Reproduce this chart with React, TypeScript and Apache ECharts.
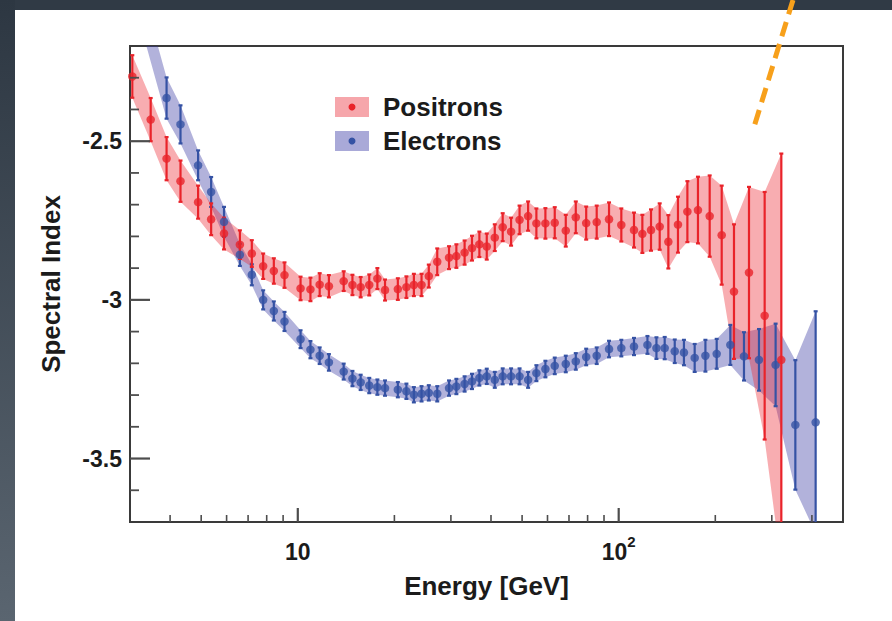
import React, { useEffect, useRef } from 'react';
import * as echarts from 'echarts';

// Positron spectral index vs energy (GeV), with 1-sigma uncertainty
const posEnergy = [3.05, 3.48, 3.90, 4.31, 4.89, 5.37, 5.89, 6.60, 7.19, 7.80, 8.42, 9.09, 10.2, 10.95, 11.7, 12.5, 13.9, 14.8, 15.7, 16.7, 17.7, 18.7, 20.5, 21.8, 23.0, 24.3, 25.6, 27.2, 29.6, 31.2, 33.1, 34.9, 36.8, 38.8, 41.1, 43.5, 46.2, 49.1, 52.2, 55.4, 59.1, 63.2, 68.4, 73.5, 79.2, 85.4, 93.3, 101.9, 111.6, 118.5, 126.1, 134.2, 142.8, 153.0, 163.7, 176.6, 192.1, 209.4, 228.7, 254.7, 285.0, 321.2];
const posIndex = [-2.296, -2.432, -2.555, -2.626, -2.692, -2.746, -2.791, -2.826, -2.854, -2.894, -2.909, -2.922, -2.964, -2.967, -2.952, -2.957, -2.941, -2.953, -2.960, -2.953, -2.933, -2.969, -2.966, -2.960, -2.953, -2.953, -2.925, -2.880, -2.867, -2.862, -2.851, -2.837, -2.825, -2.832, -2.804, -2.771, -2.785, -2.748, -2.736, -2.759, -2.759, -2.757, -2.782, -2.740, -2.758, -2.755, -2.746, -2.764, -2.780, -2.792, -2.780, -2.769, -2.817, -2.763, -2.722, -2.717, -2.736, -2.796, -2.974, -2.914, -3.050, -3.189];
const posErr = [0.067, 0.068, 0.068, 0.065, 0.052, 0.05, 0.05, 0.045, 0.042, 0.04, 0.04, 0.04, 0.037, 0.037, 0.036, 0.035, 0.031, 0.032, 0.032, 0.033, 0.033, 0.033, 0.034, 0.034, 0.035, 0.035, 0.036, 0.042, 0.036, 0.037, 0.038, 0.039, 0.04, 0.041, 0.042, 0.044, 0.044, 0.045, 0.046, 0.047, 0.048, 0.049, 0.05, 0.05, 0.052, 0.052, 0.053, 0.052, 0.055, 0.06, 0.065, 0.073, 0.084, 0.088, 0.096, 0.105, 0.128, 0.156, 0.212, 0.27, 0.39, 0.65];

// Electron spectral index vs energy (GeV)
const eleEnergy = [3.30, 3.90, 4.31, 4.89, 5.37, 5.89, 6.60, 7.19, 7.80, 8.42, 9.09, 10.2, 10.95, 11.7, 12.5, 13.9, 14.8, 15.7, 16.7, 17.7, 18.7, 20.5, 21.8, 23.0, 24.3, 25.6, 27.2, 29.6, 31.2, 33.1, 34.9, 36.8, 38.8, 41.1, 43.5, 46.2, 49.1, 52.2, 55.4, 59.1, 63.2, 68.4, 73.5, 79.2, 85.4, 93.3, 101.9, 111.6, 122.9, 131.1, 139.1, 149.5, 159.7, 172.5, 186.3, 202.0, 222.8, 245.7, 273.6, 308.3, 355.2, 410.9];
const eleIndex = [-2.10, -2.364, -2.447, -2.576, -2.660, -2.754, -2.858, -2.921, -3.000, -3.035, -3.068, -3.124, -3.157, -3.176, -3.197, -3.226, -3.248, -3.260, -3.270, -3.275, -3.278, -3.283, -3.288, -3.299, -3.296, -3.293, -3.296, -3.278, -3.273, -3.265, -3.257, -3.246, -3.241, -3.252, -3.241, -3.241, -3.241, -3.252, -3.231, -3.218, -3.208, -3.202, -3.194, -3.180, -3.176, -3.155, -3.152, -3.147, -3.142, -3.152, -3.152, -3.162, -3.166, -3.183, -3.176, -3.170, -3.142, -3.178, -3.189, -3.205, -3.394, -3.386];
const eleErr = [0.065, 0.065, 0.06, 0.047, 0.047, 0.047, 0.035, 0.033, 0.03, 0.03, 0.03, 0.028, 0.027, 0.026, 0.026, 0.025, 0.024, 0.024, 0.024, 0.024, 0.024, 0.024, 0.024, 0.024, 0.024, 0.024, 0.024, 0.024, 0.024, 0.024, 0.024, 0.024, 0.024, 0.025, 0.025, 0.025, 0.025, 0.025, 0.025, 0.026, 0.026, 0.026, 0.026, 0.026, 0.026, 0.026, 0.026, 0.027, 0.028, 0.034, 0.035, 0.037, 0.04, 0.044, 0.05, 0.047, 0.063, 0.076, 0.097, 0.13, 0.204, 0.35];

// Axis ranges and tick positions
const xMin = 3;
const xMax = 500;
const yMin = -3.7;
const yMax = -2.2;
const xMajorTicks = [10, 100];
const xMinorTicks = [4, 5, 6, 7, 8, 9, 20, 30, 40, 50, 60, 70, 80, 90, 200, 300, 400];
const yMajorTicks = [-3.5, -3.0, -2.5];
const yMinorTicks = [-3.6, -3.4, -3.3, -3.2, -3.1, -2.9, -2.8, -2.7, -2.6, -2.4, -2.3];

const seriesNames = ['Positrons', 'Electrons'];

const FONT = '"Liberation Sans", Arial, Helvetica, sans-serif';
const TEXT = '#1b1b1b';
const RED = '#e9232a';
const BLUE = '#3552a4';
const RED_BAND = 'rgba(236, 40, 50, 0.38)';
const BLUE_BAND = 'rgba(52, 52, 160, 0.38)';

function bandSeries(E: number[], Y: number[], Err: number[], fill: string) {
  const mid = Math.floor(E.length / 2);
  return {
    type: 'custom',
    coordinateSystem: 'cartesian2d',
    clip: true,
    silent: true,
    z: 2,
    data: [[E[mid], Y[mid]]],
    renderItem: (params: any, api: any) => {
      const upper = E.map((e, i) => api.coord([e, Y[i] + Err[i]]));
      const lower = E.map((e, i) => api.coord([e, Y[i] - Err[i]])).reverse();
      return {
        type: 'polygon',
        shape: { points: upper.concat(lower) },
        style: { fill, stroke: 'none' },
      };
    },
  };
}

function errorSeries(E: number[], Y: number[], Err: number[], color: string) {
  return {
    type: 'custom',
    coordinateSystem: 'cartesian2d',
    clip: true,
    silent: true,
    z: 3,
    data: E.map((e, i) => [e, Y[i], Y[i] - Err[i], Y[i] + Err[i]]),
    encode: { x: 0, y: [1, 2, 3] },
    renderItem: (params: any, api: any) => {
      const x = api.value(0);
      const lo = api.coord([x, api.value(2)]);
      const hi = api.coord([x, api.value(3)]);
      const st = { stroke: color, lineWidth: 2.2 };
      return {
        type: 'group',
        children: [
          { type: 'line', shape: { x1: lo[0], y1: lo[1], x2: hi[0], y2: hi[1] }, style: st },
          { type: 'line', shape: { x1: lo[0] - 2, y1: lo[1], x2: lo[0] + 2, y2: lo[1] }, style: st },
          { type: 'line', shape: { x1: hi[0] - 2, y1: hi[1], x2: hi[0] + 2, y2: hi[1] }, style: st },
        ],
      };
    },
  };
}

function pointSeries(name: string, E: number[], Y: number[], color: string) {
  return {
    name,
    type: 'scatter',
    clip: true,
    silent: true,
    z: 4,
    symbol: 'circle',
    symbolSize: 8.5,
    itemStyle: { color },
    data: E.map((e, i) => [e, Y[i]]),
  };
}

function xTickSeries(values: number[], len: number, width: number) {
  return {
    type: 'custom',
    coordinateSystem: 'cartesian2d',
    silent: true,
    z: 5,
    data: values.map((v) => [v, yMin]),
    renderItem: (params: any, api: any) => {
      const p = api.coord([api.value(0), api.value(1)]);
      return {
        type: 'line',
        shape: { x1: p[0], y1: p[1], x2: p[0], y2: p[1] - len },
        style: { stroke: '#4d4d4d', lineWidth: width },
      };
    },
  };
}

function yTickSeries(values: number[], len: number, width: number) {
  return {
    type: 'custom',
    coordinateSystem: 'cartesian2d',
    silent: true,
    z: 5,
    data: values.map((v) => [xMin, v]),
    renderItem: (params: any, api: any) => {
      const p = api.coord([api.value(0), api.value(1)]);
      return {
        type: 'line',
        shape: { x1: p[0], y1: p[1], x2: p[0] + len, y2: p[1] },
        style: { stroke: '#4d4d4d', lineWidth: width },
      };
    },
  };
}

function legendItem(y: number, fill: string, dot: string, label: string) {
  return [
    { type: 'rect', shape: { x: 335, y: y - 10, width: 34, height: 20 }, style: { fill }, z: 10 },
    { type: 'circle', shape: { cx: 352, cy: y, r: 3.5 }, style: { fill: dot }, z: 11 },
    {
      type: 'text',
      x: 383,
      y,
      style: {
        text: label,
        fill: TEXT,
        font: `bold 26px ${FONT}`,
        verticalAlign: 'middle',
        align: 'left',
      },
      z: 11,
    },
  ];
}

export default function App() {
  const ref = useRef<HTMLDivElement>(null);

  useEffect(() => {
    if (!ref.current) return;
    const chart = echarts.init(ref.current, null, { renderer: 'svg' });

    const option: any = {
      animation: false,
      backgroundColor: '#ffffff',
      textStyle: { fontFamily: FONT },
      grid: {
        left: 130,
        right: 49,
        top: 46,
        bottom: 99,
        show: true,
        borderColor: '#3a3a3a',
        borderWidth: 2,
        backgroundColor: 'transparent',
      },
      xAxis: {
        type: 'log',
        logBase: 10,
        min: xMin,
        max: xMax,
        axisLine: { show: false },
        axisTick: { show: false },
        splitLine: { show: false },
        axisLabel: {
          showMinLabel: false,
          showMaxLabel: false,
          margin: 12,
          formatter: (v: number) => {
            const p = Math.round(Math.log10(v) * 1000) / 1000;
            if (p === 1) return '{b|10}';
            if (p === 2) return '{b|10}{s|2}';
            return '';
          },
          rich: {
            b: { fontSize: 23, fontWeight: 'bold', color: TEXT, fontFamily: FONT, lineHeight: 29, verticalAlign: 'bottom' },
            s: { fontSize: 15, fontWeight: 'bold', color: TEXT, fontFamily: FONT, lineHeight: 16, verticalAlign: 'top' },
          },
        },
        name: 'Energy [GeV]',
        nameLocation: 'middle',
        nameGap: 51,
        nameTextStyle: { fontSize: 26, fontWeight: 'bold', color: TEXT, fontFamily: FONT },
      },
      yAxis: {
        type: 'value',
        min: yMin,
        max: yMax,
        interval: 0.1,
        axisLine: { show: false },
        axisTick: { show: false },
        splitLine: { show: false },
        axisLabel: {
          margin: 8,
          fontSize: 23,
          fontWeight: 'bold',
          color: TEXT,
          fontFamily: FONT,
          formatter: (v: number) => {
            const r = Math.round(v * 10) / 10;
            return yMajorTicks.some((t) => Math.abs(t - r) < 1e-6) ? String(r) : '';
          },
        },
        name: 'Spectral Index',
        nameLocation: 'middle',
        nameGap: 66,
        nameRotate: 90,
        nameTextStyle: { fontSize: 26, fontWeight: 'bold', color: TEXT, fontFamily: FONT },
      },
      series: [
        bandSeries(eleEnergy, eleIndex, eleErr, BLUE_BAND),
        bandSeries(posEnergy, posIndex, posErr, RED_BAND),
        errorSeries(eleEnergy, eleIndex, eleErr, BLUE),
        pointSeries(seriesNames[1], eleEnergy, eleIndex, BLUE),
        errorSeries(posEnergy, posIndex, posErr, RED),
        pointSeries(seriesNames[0], posEnergy, posIndex, RED),
        xTickSeries(xMajorTicks, 14, 2.2),
        xTickSeries(xMinorTicks, 7, 1.6),
        yTickSeries(yMajorTicks, 20, 2.2),
        yTickSeries(yMinorTicks, 9, 1.8),
      ],
      graphic: [
        { type: 'rect', shape: { x: 0, y: 0, width: 892, height: 10 }, style: { fill: '#303a45' }, z: 20 },
        {
          type: 'rect',
          shape: { x: 0, y: 0, width: 15, height: 621 },
          style: {
            fill: new echarts.graphic.LinearGradient(0, 0, 0, 1, [
              { offset: 0, color: '#2d3742' },
              { offset: 1, color: '#5a6570' },
            ]),
          },
          z: 20,
        },
        ...legendItem(107, 'rgba(244, 150, 156, 0.85)', RED, seriesNames[0]),
        ...legendItem(141, 'rgba(160, 160, 212, 0.9)', BLUE, seriesNames[1]),
        {
          type: 'line',
          shape: { x1: 793, y1: 0, x2: 754, y2: 127 },
          style: { stroke: '#f7a01b', lineWidth: 5, lineDash: [15, 8] },
          z: 30,
        },
      ],
    };

    chart.setOption(option);
    return () => chart.dispose();
  }, []);

  return (
    <div
      ref={ref}
      style={{ position: 'fixed', left: 0, top: 0, width: 892, height: 621 }}
    />
  );
}
